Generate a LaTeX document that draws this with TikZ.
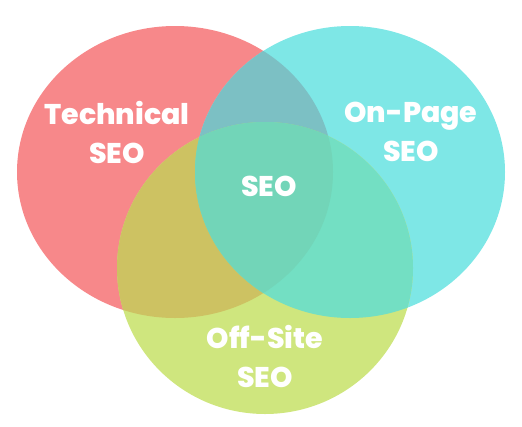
\documentclass[tikz,border=0pt]{standalone}
\usepackage{fontspec}
\setmainfont{Poppins}[BoldFont={Poppins ExtraBold}]

\definecolor{techred}{HTML}{F7888A}
\definecolor{pagecyan}{HTML}{7EE7E6}
\definecolor{sitegreen}{HTML}{CFE67E}
\definecolor{redcyan}{HTML}{7CC0C4}
\definecolor{redgreen}{HTML}{CDC262}
\definecolor{cyangreen}{HTML}{73DFC3}
\definecolor{allseo}{HTML}{72D5B8}

\begin{document}
\begin{tikzpicture}[x=1pt, y=-1pt,
		lbl/.style={text=white, align=center, inner sep=0pt,
			font=\fontsize{28.5}{39}\selectfont\bfseries}
		]
		\useasboundingbox (0,0) rectangle (522,426);
		\def\techset{(175,172) ellipse [x radius=158pt, y radius=146pt]}
		\def\pageset{(350,172) ellipse [x radius=155pt, y radius=146pt]}
		\def\siteset{(265,268) ellipse [x radius=148pt, y radius=146pt]}
		
		% single sets
		\fill[techred]   \techset;
		\fill[pagecyan]  \pageset;
		\fill[sitegreen] \siteset;
		
		% overlaps
		\begin{scope} \clip \techset; \fill[redcyan]   \pageset; \end{scope}
		\begin{scope} \clip \techset; \fill[redgreen]  \siteset; \end{scope}
		\begin{scope} \clip \pageset; \fill[cyangreen] \siteset; \end{scope}
		\begin{scope} \clip \techset; \clip \pageset; \fill[allseo] \siteset; \end{scope}
		
		\node[lbl] (tech) at (117,132) {Technical\\SEO};
		\node[lbl] (page) at (411,132) {On-Page\\SEO};
		\node[lbl] (core) at (269,186) {SEO};
		\node[lbl] (site) at (265,356) {Off-Site\\SEO};
\end{tikzpicture}
\end{document}
